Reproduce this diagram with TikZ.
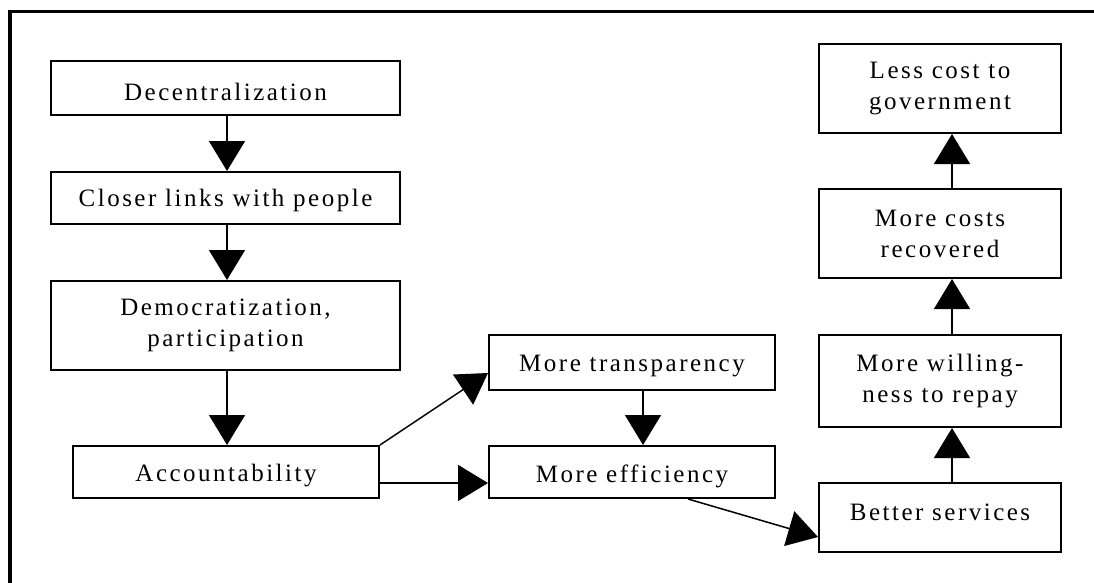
\documentclass[tikz,border=0pt]{standalone}
\usepackage{fontspec}
\setmainfont[LetterSpace=10]{Liberation Serif}
\usetikzlibrary{arrows.meta}
\newcommand\txtshift[2]{\raisebox{#1}[\height][\depth]{#2}}
\tikzset{
  box/.style={draw, line width=2pt, rectangle, inner sep=0pt, align=center,
    font=\fontsize{25}{31}\selectfont},
  conn/.style={line width=1.5pt, -{Triangle[length=30pt,width=36pt]}}
}
\begin{document}
\begin{tikzpicture}[x=1pt,y=-1pt]
\useasboundingbox (0,0) rectangle (1094,583);
\draw[line width=3.5pt] (10,583) -- (10,11.5) -- (1094,11.5);
% left column
\node[box, minimum width=349pt, minimum height=54pt] (dec) at (225.5,88) {\txtshift{-4pt}{Decentralization}};
\node[box, minimum width=349pt, minimum height=52pt] (clo) at (225.5,198) {\txtshift{-2pt}{Closer links with people}};
\node[box, minimum width=349pt, minimum height=89pt] (dem) at (225.5,325.5) {Democratization,\\participation};
\node[box, minimum width=306pt, minimum height=52pt] (acc) at (226,472) {\txtshift{-4pt}{Accountability}};
% middle column
\node[box, minimum width=286pt, minimum height=55pt] (tra) at (632,362.5) {\txtshift{-4pt}{More transparency}};
\node[box, minimum width=286pt, minimum height=52pt] (eff) at (632,472) {\txtshift{-4pt}{More efficiency}};
% right column
\node[box, minimum width=242pt, minimum height=69pt] (bet) at (940,517.5) {\txtshift{5pt}{Better services}};
\node[box, minimum width=242pt, minimum height=92pt] (wil) at (940,381) {More willing-\\ness to repay};
\node[box, minimum width=242pt, minimum height=89pt] (rec) at (940,233.5) {More costs\\recovered};
\node[box, minimum width=242pt, minimum height=89pt] (les) at (940,88.5) {Less cost to\\government};
% connectors
\draw[conn] ([xshift=1.5pt]dec.south) -- ([xshift=1.5pt]clo.north);
\draw[conn] ([xshift=1.5pt]clo.south) -- ([xshift=1.5pt]dem.north);
\draw[conn] ([xshift=1.5pt]dem.south) -- ([xshift=1pt]acc.north);
\draw[conn] (acc.north east) -- ([yshift=-10.5pt]tra.west);
\draw[conn] ([yshift=-11pt]acc.east) -- ([yshift=-11pt]eff.west);
\draw[conn] ([xshift=11pt]tra.south) -- ([xshift=11pt]eff.north);
\draw[conn] ([xshift=56pt]eff.south) -- ([yshift=-19.5pt]bet.west);
\draw[conn] ([xshift=12pt]bet.north) -- ([xshift=12pt]wil.south);
\draw[conn] ([xshift=12pt]wil.north) -- ([xshift=12pt]rec.south);
\draw[conn] ([xshift=12pt]rec.north) -- ([xshift=12pt]les.south);
\end{tikzpicture}
\end{document}
